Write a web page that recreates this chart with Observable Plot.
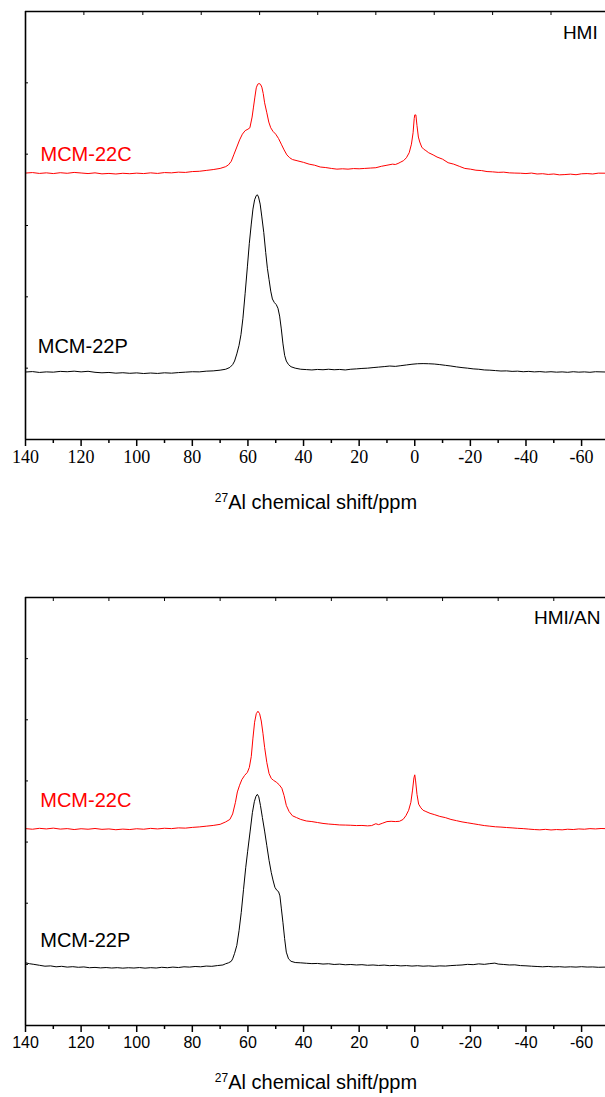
<!DOCTYPE html>
<html>
<head>
<meta charset="utf-8">
<script src="https://cdn.jsdelivr.net/npm/d3@7"></script>
<script src="https://cdn.jsdelivr.net/npm/@observablehq/plot@0.6"></script>
<style>
  html, body { margin: 0; padding: 0; background: #fff; }
  #fig { position: relative; width: 605px; height: 1097px; overflow: hidden; }
  #fig svg { position: absolute; left: 0; overflow: visible; }
  .xtitle { position: absolute; left: 0; width: 632px; text-align: center;
            font-family: Arial, "Liberation Sans", sans-serif; font-size: 20px; color: #000; line-height: 24px; }
  .xtitle sup { font-size: 12px; vertical-align: 7px; line-height: 0; }
</style>
</head>
<body>
<div id="fig"></div>
<script>
// 27Al MAS NMR spectra of MCM-22 (P = as-prepared, C = calcined), two templates.
// Each series: [chemical shift (ppm), stacked intensity (a.u.)]

const hmiCalcined = [
  [140,3.735],[137.5,3.742],[135,3.730],[132.5,3.738],[130,3.728],[127.5,3.740],[125,3.732],[122.5,3.744],
  [120,3.736],[117.5,3.728],[115,3.738],[112.5,3.724],[110,3.730],[107.5,3.722],[105,3.732],[102.5,3.726],
  [100,3.734],[97.5,3.728],[95,3.738],[92.5,3.730],[90,3.742],[87.5,3.738],[85,3.748],[82.5,3.744],
  [80,3.756],[77.5,3.760],[75,3.772],[72.5,3.784],[70,3.800],[68,3.825],[67,3.85],[66,3.90],[65,4.00],
  [64,4.10],[63,4.20],[62,4.28],[61,4.33],[60,4.35],[59.3,4.37],[58.5,4.52],[58,4.66],[57.5,4.80],
  [57,4.93],[56.5,4.98],[56,4.99],[55.5,4.98],[55,4.94],[54.5,4.85],[54,4.72],[53.2,4.58],[52.5,4.45],
  [51.8,4.37],[51,4.32],[50,4.28],[49,4.22],[48,4.14],[47,4.06],[46,3.99],[45,3.95],[44,3.925],
  [42,3.905],[40,3.885],[38,3.86],[36,3.845],[34,3.82],[32,3.812],[30,3.80],[28,3.79],[26,3.795],
  [24,3.79],[22,3.798],[20,3.795],[18,3.80],[16,3.805],[14,3.81],[12,3.83],[10,3.845],[8,3.86],
  [7,3.855],[6,3.87],[5,3.89],[4,3.91],[3,3.95],[2,4.02],[1.2,4.14],[0.6,4.30],[0.2,4.50],[0,4.55],
  [-0.4,4.55],[-0.8,4.40],[-1.3,4.24],[-1.8,4.17],[-2.5,4.10],[-3.2,4.07],[-4,4.05],[-5,4.02],
  [-6.6,3.99],[-8,3.96],[-10,3.93],[-12,3.88],[-14,3.86],[-16,3.83],[-18,3.80],[-20,3.79],[-22,3.775],
  [-24,3.77],[-26,3.756],[-28,3.752],[-30,3.745],[-32,3.748],[-34,3.738],[-36,3.735],[-38,3.733],
  [-40,3.728],[-42,3.735],[-44,3.722],[-46,3.726],[-48,3.716],[-50,3.722],[-52,3.710],[-54,3.714],
  [-56,3.720],[-58,3.712],[-60,3.725],[-62,3.728],[-64,3.722],[-66,3.734],[-68.6,3.733]
];

const hmiPrepared = [
  [140,0.946],[137.5,0.952],[135,0.940],[132.5,0.948],[130,0.944],[127.5,0.955],[125,0.950],[122.5,0.958],
  [120,0.948],[117.5,0.956],[115,0.942],[112.5,0.935],[110,0.940],[107.5,0.930],[105,0.936],[102.5,0.928],
  [100,0.934],[97.5,0.925],[95,0.932],[92.5,0.926],[90,0.935],[87.5,0.930],[85,0.938],[82.5,0.944],
  [80,0.950],[77.5,0.948],[75,0.958],[72.5,0.962],[70,0.972],[68,0.985],[66.5,1.01],[65.5,1.05],
  [64.8,1.10],[64,1.20],[63.2,1.32],[62.5,1.47],[61.8,1.70],[61,2.05],[60.2,2.42],[59.5,2.75],
  [58.8,3.02],[58.2,3.23],[57.6,3.36],[57,3.42],[56.6,3.43],[56.2,3.40],[55.6,3.30],[55,3.12],
  [54.3,2.90],[53.6,2.62],[53,2.40],[52.4,2.24],[51.8,2.08],[51.2,1.97],[50.5,1.92],[49.8,1.89],
  [49.2,1.84],[48.6,1.73],[48,1.55],[47.4,1.34],[46.8,1.18],[46.2,1.10],[45.4,1.05],[44.5,1.02],
  [43,1.00],[41,0.985],[39,0.980],[37,0.975],[35,0.982],[33,0.978],[31,0.985],[29,0.978],[27,0.982],
  [25,0.975],[23,0.985],[21,0.990],[19,0.996],[17,1.000],[15,1.008],[13,1.015],[11,1.022],[9,1.030],
  [7,1.025],[5,1.035],[3,1.045],[1,1.055],[-1,1.062],[-3,1.064],[-5,1.062],[-7,1.058],[-9,1.050],
  [-11,1.040],[-13,1.030],[-15,1.018],[-17,1.008],[-19,1.000],[-21,0.990],[-23,0.985],[-25,0.975],
  [-27,0.972],[-29,0.966],[-31,0.960],[-33,0.962],[-35,0.955],[-37,0.958],[-39,0.950],[-41,0.955],
  [-43,0.948],[-45,0.952],[-47,0.945],[-49,0.950],[-51,0.944],[-53,0.948],[-55,0.942],[-57,0.950],
  [-59,0.944],[-61,0.948],[-63,0.942],[-65,0.950],[-68.6,0.946]
];

const hmiAnCalcined = [
  [140,3.22],[137.5,3.21],[135,3.225],[132.5,3.215],[130,3.228],[127.5,3.212],[125,3.22],[122.5,3.205],
  [120,3.218],[117.5,3.21],[115,3.222],[112.5,3.208],[110,3.215],[107.5,3.202],[105,3.212],[102.5,3.205],
  [100,3.218],[97.5,3.21],[95,3.224],[92.5,3.215],[90,3.226],[87.5,3.22],[85,3.232],[82.5,3.228],
  [80,3.24],[77.5,3.248],[75,3.26],[72.5,3.272],[70,3.29],[68,3.33],[66.5,3.37],[65.5,3.46],
  [64.5,3.65],[63.8,3.82],[63,3.93],[62.2,4.02],[61.2,4.09],[60.2,4.14],[59.5,4.22],[58.8,4.40],
  [58.2,4.70],[57.6,4.96],[57,5.10],[56.4,5.14],[55.8,5.10],[55.2,4.98],[54.6,4.78],[54,4.55],
  [53.2,4.30],[52.4,4.12],[51.6,4.04],[50.8,4.01],[49.8,3.98],[48.8,3.94],[47.8,3.88],[47,3.76],
  [46.2,3.60],[45.2,3.50],[44,3.43],[42.5,3.40],[41,3.37],[39,3.345],[37,3.335],[35,3.32],[33,3.305],
  [31,3.295],[29,3.288],[27,3.28],[25,3.278],[23,3.275],[21,3.27],[19,3.272],[17,3.265],[15.5,3.27],
  [14,3.30],[13,3.285],[11.5,3.31],[10,3.335],[8.5,3.34],[7,3.335],[5.5,3.34],[4.2,3.37],[3.2,3.43],
  [2.2,3.52],[1.4,3.65],[0.8,3.85],[0.3,4.05],[0,4.10],[-0.3,4.00],[-0.8,3.78],[-1.4,3.62],[-2.2,3.56],
  [-3,3.52],[-4,3.50],[-5.5,3.47],[-7,3.45],[-9,3.42],[-11,3.40],[-13,3.37],[-15,3.35],[-17,3.33],
  [-19,3.315],[-21,3.30],[-23,3.285],[-25,3.27],[-27,3.26],[-29,3.25],[-31,3.245],[-33,3.238],
  [-35,3.232],[-37,3.225],[-39,3.22],[-41,3.212],[-43,3.205],[-45,3.20],[-47,3.208],[-49,3.198],
  [-51,3.205],[-53,3.20],[-55,3.21],[-57,3.205],[-59,3.215],[-61,3.21],[-63,3.22],[-65,3.215],
  [-67,3.222],[-68.6,3.22]
];

const hmiAnPrepared = [
  [140,1.026],[138.5,1.01],[137,1.00],[135,0.985],[133,0.97],[131,0.975],[129,0.96],[127,0.968],
  [125,0.955],[123,0.962],[121,0.952],[119,0.958],[117,0.945],[115,0.95],[113,0.942],[111,0.948],
  [109,0.94],[107,0.946],[105,0.938],[103,0.945],[101,0.94],[99,0.948],[97,0.938],[95,0.946],
  [93,0.94],[91,0.952],[89,0.945],[87,0.955],[85,0.948],[83,0.96],[81,0.955],[79,0.965],[77,0.96],
  [75,0.972],[73,0.968],[71,0.98],[69,0.99],[68,1.01],[67,1.025],[66,1.05],[65.5,1.09],[64.8,1.18],
  [64,1.31],[63.2,1.55],[62.4,1.85],[61.6,2.22],[60.8,2.58],[60.1,2.85],[59.2,3.18],[58.4,3.48],
  [57.7,3.66],[57.1,3.75],[56.6,3.78],[56.1,3.74],[55.5,3.60],[54.8,3.40],[54,3.18],[53.2,2.94],
  [52.4,2.70],[51.6,2.50],[51,2.38],[50.3,2.26],[49.6,2.21],[49,2.19],[48.5,2.12],[48,1.92],
  [47.4,1.68],[46.8,1.42],[46.2,1.20],[45.4,1.09],[44.5,1.05],[43,1.03],[41,1.025],[39,1.018],
  [37,1.012],[35,1.015],[33,1.005],[31,1.01],[29,0.998],[27,1.004],[25,0.993],[23,0.998],[21,0.99],
  [19,0.995],[17,0.985],[15,0.99],[13,0.982],[11,0.988],[9,0.978],[7,0.984],[5,0.975],[3,0.98],
  [1,0.972],[-1,0.978],[-3,0.97],[-5,0.975],[-7,0.968],[-9,0.975],[-11,0.972],[-13,0.98],[-15,0.985],
  [-17,0.99],[-19,1.0],[-21,0.995],[-23,1.008],[-25,1.0],[-27,1.012],[-28.8,1.02],[-30,1.005],
  [-32,0.998],[-34,0.99],[-36,0.992],[-38,0.98],[-40,0.976],[-42,0.97],[-44,0.965],[-46,0.96],
  [-48,0.966],[-50,0.958],[-52,0.962],[-54,0.955],[-56,0.96],[-58,0.955],[-60,0.962],[-62,0.956],
  [-64,0.958],[-66,0.952],[-68.6,0.955]
];

// axis ticks
const xDomain = [140, -68.6];
const xMajorTicks = [140, 120, 100, 80, 60, 40, 20, 0, -20, -40, -60];
const xMinorTicks = [130, 110, 90, 70, 50, 30, 10, -10, -30, -50];
const topTicksHmi = [119, 97.8, 76.8, 55.8, 34.9, 14, -7, -28, -49];
const topTicksHmiAn = [130, 110, 90, 70, 50, 30, 10, -10, -30, -50];
const yTicksHmi = [1, 2, 3, 4, 5];
const yTicksHmiAn = [1, 2, 3, 4, 5, 6];

// sample labels: [ppm, intensity, text, colour]
const labelsHmi = [[134.6, 3.99, "MCM-22C", "#ff0000"], [135.6, 1.30, "MCM-22P", "#000"]];
const labelsHmiAn = [[134.7, 3.68, "MCM-22C", "#ff0000"], [134.7, 1.39, "MCM-22P", "#000"]];

const sans = "Arial, 'Liberation Sans', sans-serif";
const serif = "'Liberation Serif', 'Times New Roman', serif";
// plain hyphen for negative shifts
const ppmFormat = (d) => (d < 0 ? "-" + Math.abs(d) : String(d));

function panel({calcined, prepared, yMax, yTicks, topTicks, labels, tag, tickFont, tickFontSize, marginTop, height}) {
  const pts = (arr) => arr.map(([ppm, v]) => ({ppm, v}));
  return Plot.plot({
    width: 605,
    height,
    marginLeft: 25,
    marginRight: 0,
    marginTop,
    marginBottom: height - marginTop - 428,
    style: {fontFamily: sans, background: "#fff", overflow: "visible"},
    x: {domain: xDomain, range: [25, 605]},
    y: {domain: [0, yMax]},
    marks: [
      Plot.line(pts(calcined), {x: "ppm", y: "v", stroke: "#ff0000", strokeWidth: 1}),
      Plot.line(pts(prepared), {x: "ppm", y: "v", stroke: "#000", strokeWidth: 1}),
      // frame: top, left and bottom edges
      Plot.ruleY([yMax], {stroke: "#000", strokeWidth: 1.6}),
      Plot.ruleY([0], {stroke: "#000", strokeWidth: 1.6}),
      Plot.ruleX([xDomain[0]], {stroke: "#000", strokeWidth: 1.6}),
      Plot.axisX({anchor: "bottom", ticks: xMajorTicks, tickSize: 7, strokeWidth: 1.5, fill: "none", label: null}),
      Plot.axisX({anchor: "bottom", ticks: xMinorTicks, tickSize: 4, strokeWidth: 1.5, fill: "none", label: null}),
      Plot.axisX({anchor: "top", ticks: topTicks, tickSize: -3, strokeWidth: 1, fill: "none", label: null}),
      Plot.axisY({anchor: "left", ticks: yTicks, tickSize: -3, strokeWidth: 1, fill: "none", label: null}),
      // tick labels under the bottom axis
      Plot.text(xMajorTicks, {x: (d) => d, frameAnchor: "bottom", lineAnchor: "top", dy: 11,
        text: ppmFormat, fontFamily: tickFont, fontSize: tickFontSize, fill: "#000"}),
      Plot.text(labels, {x: (d) => d[0], y: (d) => d[1], text: (d) => d[2], fill: (d) => d[3],
        textAnchor: "start", fontSize: 20, fontFamily: sans}),
      Plot.text([tag], {x: (d) => d[0], y: (d) => d[1], text: (d) => d[2],
        textAnchor: "end", fontSize: 19, fontFamily: sans, fill: "#000"})
    ]
  });
}

const fig = document.getElementById("fig");

const upperPanel = panel({
  calcined: hmiCalcined, prepared: hmiPrepared, yMax: 6, yTicks: yTicksHmi, topTicks: topTicksHmi,
  labels: labelsHmi, tag: [-65.8, 5.70, "HMI"], tickFont: serif, tickFontSize: 18, marginTop: 11, height: 480
});
upperPanel.style.top = "0px";
fig.appendChild(upperPanel);

const title1 = document.createElement("div");
title1.className = "xtitle";
title1.style.top = "490px";
title1.innerHTML = "<sup>27</sup>Al chemical shift/ppm";
fig.appendChild(title1);

const lowerPanel = panel({
  calcined: hmiAnCalcined, prepared: hmiAnPrepared, yMax: 7, yTicks: yTicksHmiAn, topTicks: topTicksHmiAn,
  labels: labelsHmiAn, tag: [-66.8, 6.66, "HMI/AN"], tickFont: sans, tickFontSize: 16, marginTop: 37, height: 507
});
lowerPanel.style.top = "560px";
fig.appendChild(lowerPanel);

const title2 = document.createElement("div");
title2.className = "xtitle";
title2.style.top = "1070px";
title2.innerHTML = "<sup>27</sup>Al chemical shift/ppm";
fig.appendChild(title2);
</script>
</body>
</html>
